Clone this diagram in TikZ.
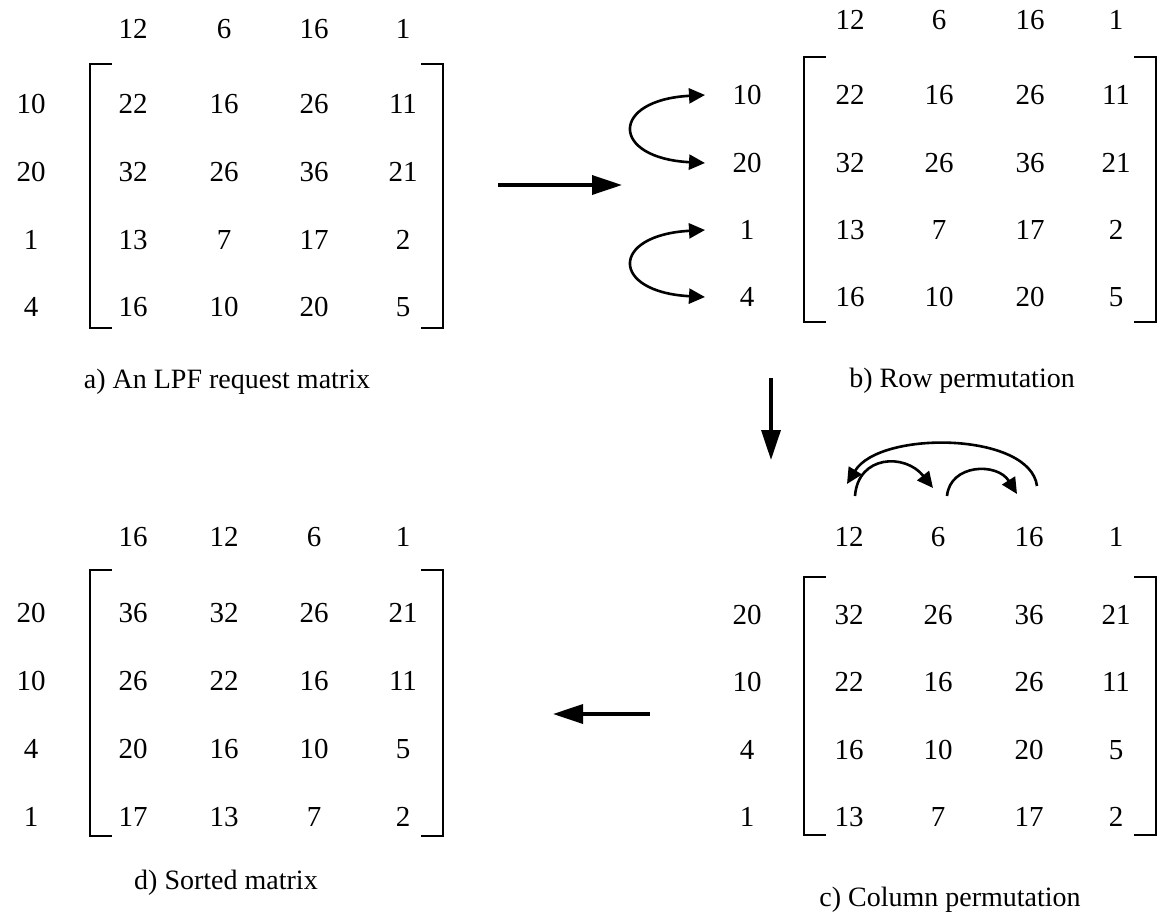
\documentclass[tikz,border=0pt]{standalone}
\usepackage{fontspec}
\setmainfont{Liberation Serif}
\usetikzlibrary{arrows.meta}
\tikzset{smalltip/.tip={Triangle[length=16pt,width=15pt]}}
\newcommand\mymatrix[6]{%
  \foreach \t [count=\c] in {#5} {
    \pgfmathsetmacro\xx{{#2}[\c-1]}
    \node[num] (#1-h\c) at (\xx,#4) {\t};
  }
  \foreach \lab/\yy/\va/\vb/\vc/\vd [count=\r] in {#6} {
    \node[num] (#1-l\r) at (#3,\yy) {\lab};
    \foreach \v [count=\c] in {\va,\vb,\vc,\vd} {
      \pgfmathsetmacro\xx{{#2}[\c-1]}
      \node[num] (#1-\r-\c) at (\xx,\yy) {\v};
    }
  }
}
\newcommand\mybrackets[4]{%
  \draw[brk] ({#1+22},#3) -- (#1,#3) -- (#1,#4) -- ({#1+22},#4);
  \draw[brk] ({#2-22},#3) -- (#2,#3) -- (#2,#4) -- ({#2-22},#4);
}
\begin{document}
\begin{tikzpicture}[x=1pt,y=-1pt,
  num/.style={inner sep=0pt,font=\fontsize{29}{32}\selectfont},
  captext/.style={inner sep=0pt,font=\fontsize{28}{32}\selectfont},
  brk/.style={line width=2.6pt,line join=miter},
  bigarrow/.style={line width=3.5pt,-{Triangle[length=30pt,width=19pt]}},
  swaparc/.style={line width=2.6pt}]
\useasboundingbox (0,0) rectangle (1162,916);
\fill[white] (0,0) rectangle (1162,916);

% panel a
\mymatrix{a}{133,224,314,403}{31}{29}{12,6,16,1}
  {10/104/22/16/26/11, 20/172/32/26/36/21, 1/240/13/7/17/2, 4/307/16/10/20/5}
\mybrackets{90}{443}{64}{328}
\node[captext] (capa) at (227,382) {a) An LPF request matrix};

% panel b
\mymatrix{b}{850,939,1030,1116}{747}{20}{12,6,16,1}
  {10/95/22/16/26/11, 20/163/32/26/36/21, 1/230/13/7/17/2, 4/297/16/10/20/5}
\mybrackets{804}{1156}{57}{322}
\node[captext] (capb) at (962,381) {b) Row permutation};

% panel c
\mymatrix{c}{849,938,1029,1116}{747}{537}{12,6,16,1}
  {20/615/32/26/36/21, 10/682/22/16/26/11, 4/750/16/10/20/5, 1/817/13/7/17/2}
\mybrackets{804}{1156}{577}{835}
\node[captext] (capc) at (950,900) {c) Column permutation};

% panel d
\mymatrix{d}{133,224,314,403}{31}{537}{16,12,6,1}
  {20/613/36/32/26/21, 10/681/26/22/16/11, 4/749/20/16/10/5, 1/817/17/13/7/2}
\mybrackets{90}{443}{570}{836}
\node[captext] (capd) at (226,883) {d) Sorted matrix};

% main arrows
\coordinate (ab-s) at (498,185);
\coordinate (ab-e) at (622,185);
\draw[bigarrow] (ab-s) -- (ab-e);
\coordinate (bc-s) at (771,378);
\coordinate (bc-e) at (771,460);
\draw[bigarrow] (bc-s) -- (bc-e);
\coordinate (cd-s) at (650,714);
\coordinate (cd-e) at (553,714);
\draw[bigarrow] (cd-s) -- (cd-e);

% row swaps in b
\coordinate (sw1a) at (705,95);
\coordinate (sw1b) at (705,163);
\coordinate (sw2a) at (705,230);
\coordinate (sw2b) at (705,297);
\draw[swaparc,smalltip-smalltip] (sw1a) .. controls (610,100) and (610,158) .. (sw1b);
\draw[swaparc,smalltip-smalltip] (sw2a) .. controls (610,235) and (610,292) .. (sw2b);

% column moves in c
\coordinate (cm1s) at (855,496);
\coordinate (cm1e) at (933,488);
\coordinate (cm2s) at (947,496);
\coordinate (cm2e) at (1017,494);
\coordinate (cm3s) at (1037,486);
\coordinate (cm3e) at (847,484);
\draw[swaparc,-smalltip] (cm1s) .. controls (858,455) and (905,453) .. (cm1e);
\draw[swaparc,-smalltip] (cm2s) .. controls (950,464) and (997,462) .. (cm2e);
\draw[swaparc,-smalltip] (cm3s) .. controls (1030,432) and (880,430) .. (cm3e);
\end{tikzpicture}
\end{document}
